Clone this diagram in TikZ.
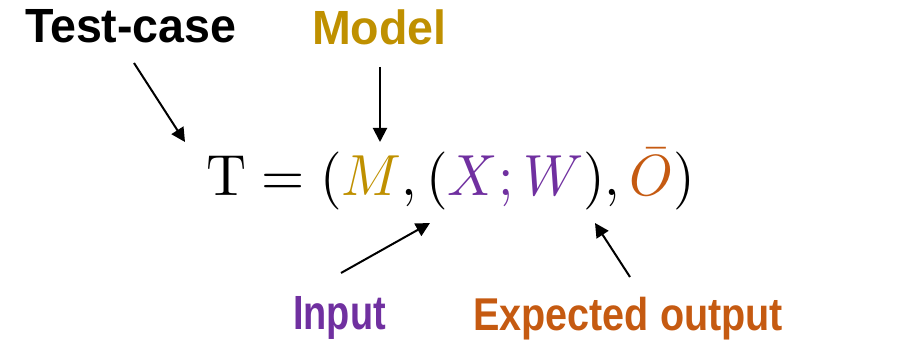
\documentclass[tikz,border=0pt]{standalone}
\usepackage{fontspec}
\usetikzlibrary{arrows.meta}
\newfontfamily\labfont{Liberation Sans}
\definecolor{gold}{HTML}{BF9000}
\definecolor{purp}{HTML}{7030A0}
\definecolor{orng}{HTML}{C55A11}
\tikzset{
  lab/.style={inner sep=0pt, anchor=base west, font=\labfont\bfseries\fontsize{48}{50}\selectfont},
  ptr/.style={line width=2pt, -{Triangle[length=14pt,width=14pt]}}
}
\begin{document}
\begin{tikzpicture}[x=1pt,y=1pt]
\useasboundingbox (0,0) rectangle (910,342);
\node[lab, xscale=0.97] (tc) at (25,299.3) {Test-case};
\node[lab, text=gold, xscale=0.97] (model) at (312,297) {Model};
\node[lab, text=purp, xscale=0.79] (input) at (293,12) {Input};
\node[lab, text=orng, xscale=0.86, font=\labfont\bfseries\fontsize{46}{48}\selectfont] (exp) at (473,11) {Expected output};
\node[inner sep=0pt, anchor=base west] (formula) at (206,146)
  {\scalebox{5.55}[5.8]{$\mathrm{T} = (\textcolor{gold}{M}, (\textcolor{purp}{X;W}), \textcolor{orng}{\bar{O}})$}};
\coordinate (tcs) at (134,279);
\coordinate (tce) at (185,200);
\coordinate (ms) at (380,275);
\coordinate (me) at (380,200);
\coordinate (is) at (341,69);
\coordinate (ie) at (430,119);
\coordinate (es) at (630,65);
\coordinate (ee) at (595,119);
\draw[ptr] (tcs) -- (tce);
\draw[ptr] (ms) -- (me);
\draw[ptr] (is) -- (ie);
\draw[ptr] (es) -- (ee);
\end{tikzpicture}
\end{document}
